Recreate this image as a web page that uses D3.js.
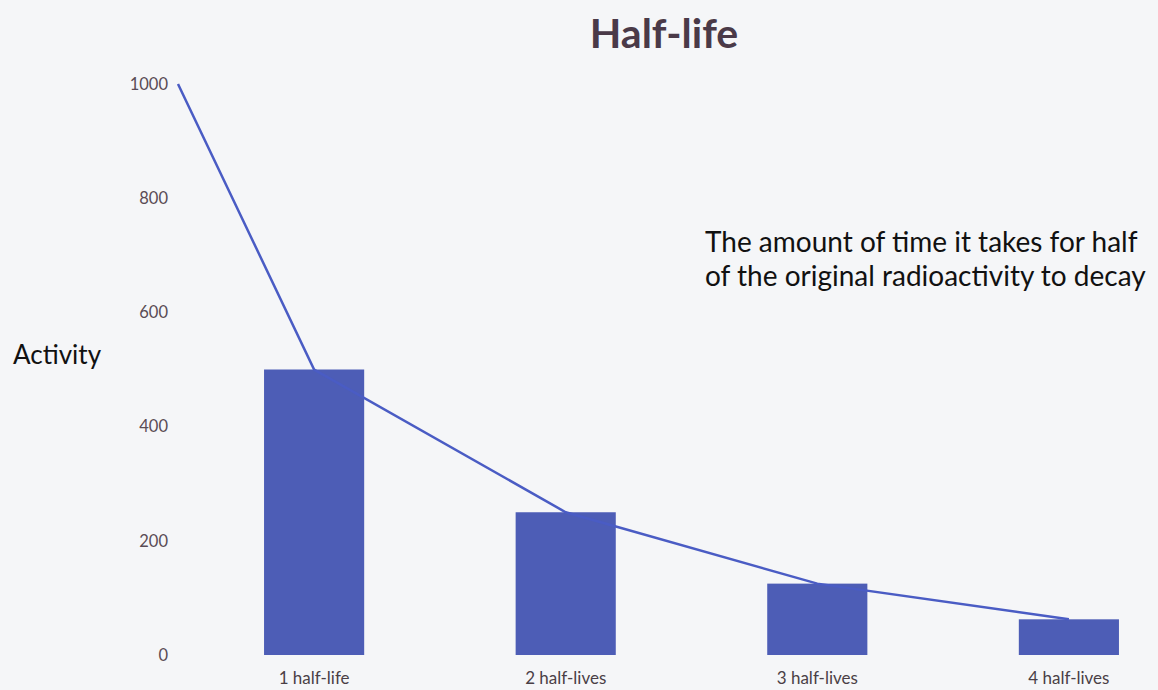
<!DOCTYPE html>
<html>
<head>
<meta charset="utf-8">
<script src="https://cdn.jsdelivr.net/npm/d3@7"></script>
<style>
  body { margin: 0; background: #f5f6f8; }
  svg { display: block; }
</style>
</head>
<body>
<div id="chart"></div>
<script>
// chart values
const categories = ["1 half-life", "2 half-lives", "3 half-lives", "4 half-lives"]
const activity = [500, 250, 125, 62.5]
const startActivity = 1000
const yTicks = [0, 200, 400, 600, 800, 1000]

const width = 1158, height = 690

const svg = d3.select("#chart")
    .append("svg")
    .attr("width", width)
    .attr("height", height)

svg.append("rect")
    .attr("width", width)
    .attr("height", height)
    .attr("fill", "#f5f6f8")

const x = d3.scaleBand()
    .domain(categories)
    .range([178, 1205])
    .paddingInner(0.602)
    .paddingOuter(0.342)

const y = d3.scaleLinear()
    .domain([0, 1000])
    .range([655, 84])

// y axis labels only
const yAxis = d3.axisLeft(y).tickValues(yTicks).tickFormat(d3.format("d")).tickSize(0).tickPadding(10)
svg.append("g")
    .attr("transform", "translate(178,0)")
    .call(yAxis)
    .call(g => g.select(".domain").remove())
    .selectAll("text")
    .attr("font-family", "Lato, 'Open Sans', sans-serif")
    .attr("font-size", 16.5)
    .attr("fill", "#5a4c55")

// x axis labels
const xAxis = d3.axisBottom(x).tickSize(0).tickPadding(17)
svg.append("g")
    .attr("transform", "translate(0,655)")
    .call(xAxis)
    .call(g => g.select(".domain").remove())
    .selectAll("text")
    .attr("font-family", "Lato, 'Open Sans', sans-serif")
    .attr("font-size", 17)
    .attr("fill", "#4a3f46")

// bars
svg.selectAll("rect.bar")
    .data(activity)
    .enter().append("rect")
    .attr("class", "bar")
    .attr("x", (d, i) => x(categories[i]))
    .attr("y", d => y(d))
    .attr("width", x.bandwidth())
    .attr("height", d => y(0) - y(d))
    .attr("fill", "#4d5db6")

// decay line, starting from the initial activity at the axis
const linePts = [[x.range()[0], startActivity]]
    .concat(activity.map((d, i) => [x(categories[i]) + x.bandwidth() / 2, d]))

const line = d3.line()
    .x(d => d[0])
    .y(d => y(d[1]))

svg.append("path")
    .datum(linePts)
    .attr("d", line)
    .attr("fill", "none")
    .attr("stroke", "#4a5cc4")
    .attr("stroke-width", 2.5)

// title
svg.append("text")
    .attr("x", 664)
    .attr("y", 48)
    .attr("text-anchor", "middle")
    .attr("font-family", "Lato, 'Open Sans', sans-serif")
    .attr("font-weight", "bold")
    .attr("font-size", 41)
    .attr("fill", "#4a3a48")
    .text("Half-life")

// y label
svg.append("text")
    .attr("x", 13)
    .attr("y", 364)
    .attr("font-family", "Lato, 'Open Sans', sans-serif")
    .attr("font-size", 26)
    .attr("fill", "#111")
    .text("Activity")

// note
const note = ["The amount of time it takes for half", "of the original radioactivity to decay"]
svg.append("g").selectAll("text")
    .data(note)
    .enter().append("text")
    .attr("x", 705)
    .attr("y", (d, i) => 252 + i * 34)
    .attr("font-family", "Lato, 'Open Sans', sans-serif")
    .attr("font-size", 28)
    .attr("fill", "#111")
    .text(d => d)
</script>
</body>
</html>
